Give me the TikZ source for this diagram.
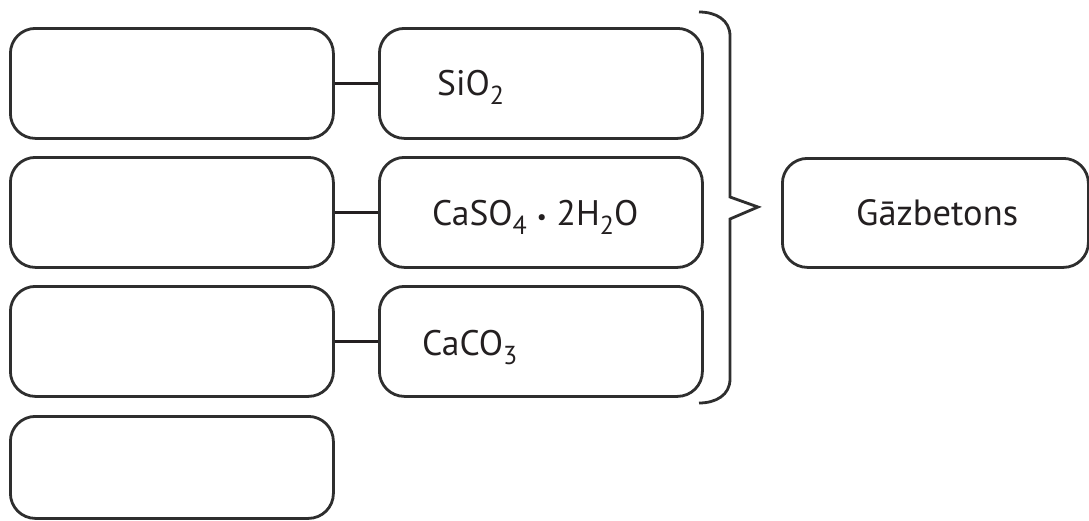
\documentclass[tikz,border=0pt]{standalone}
\usepackage{fontspec}
\setmainfont{PT Sans}
\definecolor{ink}{HTML}{231F20}
\definecolor{frame}{HTML}{2E2E2E}
\newcommand{\chsub}[1]{\raisebox{-9pt}{\fontsize{26}{26}\selectfont #1}}
\begin{document}
\begin{tikzpicture}[x=1pt,y=-1pt,
  boxstyle/.style={draw=frame, line width=2.8pt, rounded corners=25pt, minimum width=323pt, minimum height=110pt, inner sep=0pt, anchor=north west},
  linkstyle/.style={draw=ink, line width=3pt},
  bracestyle/.style={draw=frame, line width=2.8pt, line join=miter},
  chem/.style={text=ink, font=\fontsize{35.5}{35.5}\selectfont, inner sep=0pt, anchor=base west},
  prodtext/.style={text=ink, font=\fontsize{36.5}{36.5}\selectfont, inner sep=0pt, anchor=base west}]
\useasboundingbox (0,0) rectangle (1089,520);
% left column
\node[boxstyle] (l1) at (9,27) {};
\node[boxstyle] (l2) at (9,156) {};
\node[boxstyle] (l3) at (9,285) {};
\node[boxstyle, minimum height=102pt] (l4) at (9,415) {};
% right column
\node[boxstyle] (r1) at (378,27) {};
\node[boxstyle] (r2) at (378,156) {};
\node[boxstyle] (r3) at (378,285) {};
% product
\node[boxstyle, minimum width=306pt, minimum height=109pt] (g) at (781,157) {};
% labels
\node[chem] (t1) at (437,95) {SiO\chsub{2}};
\node[chem] (t2) at (432,225) {CaSO\chsub{4}\hspace{10pt}\raisebox{1pt}{\fontsize{22}{22}\selectfont •}\hspace{10pt}2H\chsub{2}O};
\node[chem] (t3) at (422,355) {CaCO\chsub{3}};
\node[prodtext] (t4) at (856,225) {Gāzbetons};
% connectors
\draw[linkstyle] (l1.east) -- (r1.west);
\draw[linkstyle] (l2.east) -- (r2.west);
\draw[linkstyle] (l3.east) -- (r3.west);
% brace
\coordinate (bt) at (699,12);
\coordinate (bb) at (699,403);
\coordinate (tip) at (758,207);
\draw[bracestyle] (bt) .. controls (716,12) and (730,20) .. (730,36)
  -- (730,197) -- (tip) -- (730,219) -- (730,379)
  .. controls (730,395) and (716,403) .. (bb);
\end{tikzpicture}
\end{document}
